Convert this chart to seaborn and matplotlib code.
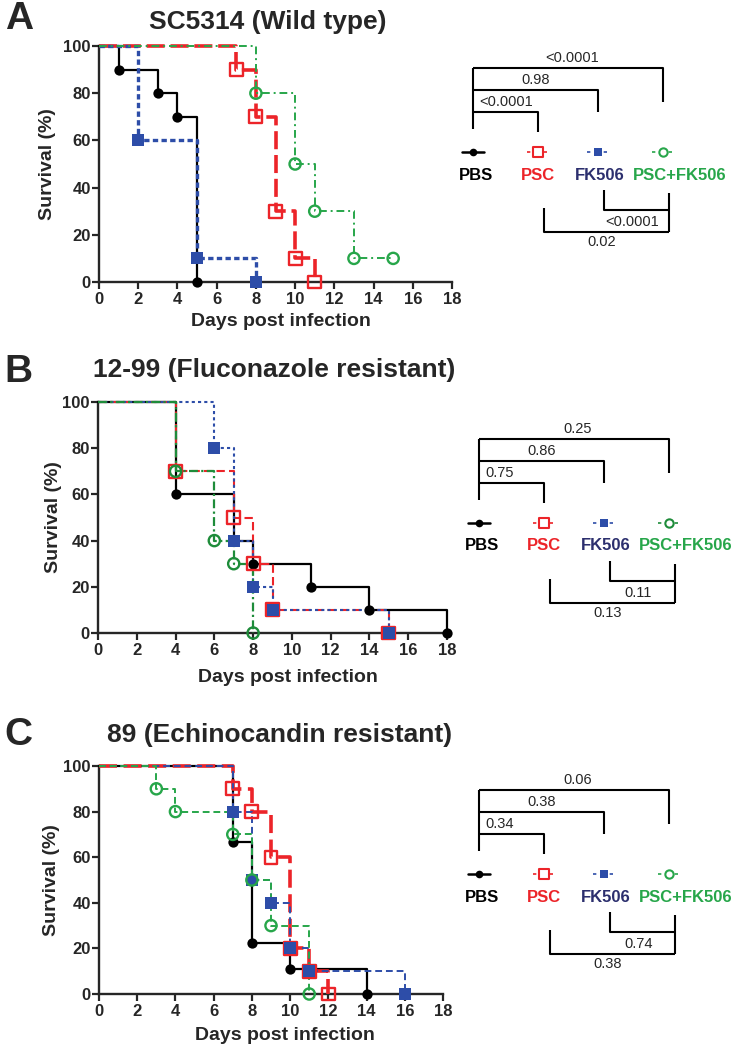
import matplotlib
matplotlib.use("Agg")
import matplotlib.pyplot as plt
import seaborn as sns
import pandas as pd
from matplotlib.lines import Line2D

sns.set_theme(style="ticks")
plt.rcParams["font.family"] = ["Liberation Sans", "DejaVu Sans"]

# ---------------- data ----------------
groups = ["PBS", "PSC", "FK506", "PSC+FK506"]

A_PBS_days = [0, 1, 3, 4, 5];            A_PBS_surv = [100, 90, 80, 70, 0]
A_PSC_days = [0, 7, 8, 9, 10, 11];       A_PSC_surv = [100, 90, 70, 30, 10, 0]
A_FK_days = [0, 2, 5, 8];                A_FK_surv = [100, 60, 10, 0]
A_CMB_days = [0, 8, 10, 11, 13, 15];     A_CMB_surv = [100, 80, 50, 30, 10, 10]

B_PBS_days = [0, 4, 7, 8, 11, 14, 18];   B_PBS_surv = [100, 60, 40, 30, 20, 10, 0]
B_PSC_days = [0, 4, 7, 8, 9, 15];        B_PSC_surv = [100, 70, 50, 30, 10, 0]
B_FK_days = [0, 6, 7, 8, 9, 15];         B_FK_surv = [100, 80, 40, 20, 10, 0]
B_CMB_days = [0, 4, 6, 7, 8];            B_CMB_surv = [100, 70, 40, 30, 0]

C_PBS_days = [0, 7, 8, 10, 14];          C_PBS_surv = [100, 66.7, 22.2, 11.1, 0]
C_PSC_days = [0, 7, 8, 9, 10, 11, 12];   C_PSC_surv = [100, 90, 80, 60, 20, 10, 0]
C_FK_days = [0, 7, 8, 9, 10, 11, 16];    C_FK_surv = [100, 80, 50, 40, 20, 10, 0]
C_CMB_days = [0, 3, 4, 7, 8, 9, 11];     C_CMB_surv = [100, 90, 80, 70, 50, 30, 0]

panel_letters = ["A", "B", "C"]
panel_titles = {"A": "SC5314 (Wild type)",
                "B": "12-99 (Fluconazole resistant)",
                "C": "89 (Echinocandin resistant)"}
# p-values: PBS vs PSC+FK506, PBS vs FK506, PBS vs PSC
A_p_top = ["<0.0001", "0.98", "<0.0001"]
B_p_top = ["0.25", "0.86", "0.75"]
C_p_top = ["0.06", "0.38", "0.34"]
# FK506 vs PSC+FK506, PSC vs PSC+FK506
A_p_bot = ["<0.0001", "0.02"]
B_p_bot = ["0.11", "0.13"]
C_p_bot = ["0.74", "0.38"]

x_ticks = list(range(0, 19, 2))
y_ticks = list(range(0, 101, 20))

rows = []
for pnl, series in zip(panel_letters, [
        [(A_PBS_days, A_PBS_surv), (A_PSC_days, A_PSC_surv), (A_FK_days, A_FK_surv), (A_CMB_days, A_CMB_surv)],
        [(B_PBS_days, B_PBS_surv), (B_PSC_days, B_PSC_surv), (B_FK_days, B_FK_surv), (B_CMB_days, B_CMB_surv)],
        [(C_PBS_days, C_PBS_surv), (C_PSC_days, C_PSC_surv), (C_FK_days, C_FK_surv), (C_CMB_days, C_CMB_surv)]]):
    for g, (dd, ss) in zip(groups, series):
        for d, s in zip(dd, ss):
            rows.append(dict(panel=pnl, group=g, day=d, survival=s))
df = pd.DataFrame(rows)

# ---------------- styles ----------------
RED = "#EC2429"
BLUE = "#2D4DA8"
GREEN = "#27A64A"
colors = {"PBS": "black", "PSC": RED, "FK506": BLUE, "PSC+FK506": GREEN}
text_colors = {"PBS": "black", "PSC": RED, "FK506": "#2C2F6E", "PSC+FK506": GREEN}
line_style = {
    "A": {"PBS": (1.6, None), "PSC": (2.6, (5, 1.6)), "FK506": (2.4, (1.6, 1.0)), "PSC+FK506": (1.4, (4, 2, 1, 2))},
    "B": {"PBS": (1.6, None), "PSC": (1.5, (4, 2)), "FK506": (1.5, (1.5, 1.5)), "PSC+FK506": (1.6, (4, 1.5, 1, 1.5))},
    "C": {"PBS": (1.6, None), "PSC": (2.6, (5, 1.8)), "FK506": (1.4, (3.5, 2)), "PSC+FK506": (1.4, (3.5, 2))},
}
green_by_panel = {"A": GREEN, "B": "#1E8C3A", "C": GREEN}
marker_style = {
    "PBS": dict(marker="o", s=55, filled=True),
    "PSC": dict(marker="s", s=85, filled=False),
    "FK506": dict(marker="s", s=75, filled=True),
    "PSC+FK506": dict(marker="o", s=65, filled=False),
}

W, H = 738, 1053
fig = plt.figure(figsize=(W / 100, H / 100), dpi=100)

ov = fig.add_axes([0, 0, 1, 1])
ov.set_xlim(0, W)
ov.set_ylim(H, 0)
ov.axis("off")

def add_ax(l, t, r, b):
    return fig.add_axes([l / W, 1 - b / H, (r - l) / W, (b - t) / H])

axes_px = {"A": (99, 46, 452, 282), "B": (98, 402, 447, 633), "C": (99, 766, 443, 994)}
title_pos = {"A": (268, 22), "B": (274, 370), "C": (280, 735)}
letter_pos = {"A": (19, 19), "B": (18, 372), "C": (18, 735)}
xlab_pos = {"A": (281, 321), "B": (288, 678), "C": (285, 1036)}
ylab_pos = {"A": (47, 164), "B": (53, 517), "C": (52, 880)}
legend_base = {"A": (473, 152), "B": (479, 523), "C": (479, 874)}
p_top = {"A": A_p_top, "B": B_p_top, "C": C_p_top}
p_bot = {"A": A_p_bot, "B": B_p_bot, "C": C_p_bot}

for pnl in panel_letters:
    ax = add_ax(*axes_px[pnl])
    for g in groups:
        col = green_by_panel[pnl] if g == "PSC+FK506" else colors[g]
        lw, dash = line_style[pnl][g]
        d = df[(df.panel == pnl) & (df.group == g)]
        sns.lineplot(data=d, x="day", y="survival", ax=ax, color=col,
                     estimator=None, sort=False, drawstyle="steps-post",
                     linewidth=lw, legend=False, clip_on=False, zorder=3)
        if dash is not None:
            ax.lines[-1].set_dashes(dash)
    for g in groups:
        col = green_by_panel[pnl] if g == "PSC+FK506" else colors[g]
        ms = marker_style[g]
        ev = df[(df.panel == pnl) & (df.group == g) & (df.day > 0)]
        sns.scatterplot(data=ev, x="day", y="survival", ax=ax, marker=ms["marker"],
                        s=ms["s"], color=col,
                        facecolor=col if ms["filled"] else "none",
                        edgecolor=col, linewidth=0 if ms["filled"] else 1.7,
                        legend=False, clip_on=False, zorder=4)
    ax.set_xlim(0, 18)
    ax.set_ylim(0, 100)
    ax.set_xticks(x_ticks)
    ax.set_yticks(y_ticks)
    ax.set_xlabel("")
    ax.set_ylabel("")
    sns.despine(ax=ax)
    for sp in ["left", "bottom"]:
        ax.spines[sp].set_linewidth(1.7)
    ax.tick_params(axis="both", length=5, width=1.6, labelsize=12, direction="out")
    ax.tick_params(axis="x", pad=2.5)
    ax.tick_params(axis="y", pad=1)
    for lab in ax.get_xticklabels() + ax.get_yticklabels():
        lab.set_fontweight("bold")

    # texts
    ov.text(*letter_pos[pnl], pnl, fontsize=28, fontweight="bold", ha="center", va="center")
    ov.text(*title_pos[pnl], panel_titles[pnl],
            fontsize=19, fontweight="bold", ha="center", va="center")
    ov.text(*xlab_pos[pnl], "Days post infection", fontsize=14, fontweight="bold",
            ha="center", va="center")
    ov.text(*ylab_pos[pnl], "Survival (%)", fontsize=14, fontweight="bold",
            ha="center", va="center", rotation=90)

    # legend + brackets
    bx, by = legend_base[pnl]
    legs = [bx, bx + 65, bx + 125, bx + 190]
    text_dx = [3, 0, 2, 17]
    for i, g in enumerate(groups):
        col = green_by_panel[pnl] if g == "PSC+FK506" else colors[g]
        lw, dash = line_style[pnl][g]
        ln = Line2D([legs[i] - 11, legs[i] + 11], [by, by], color=col,
                    linewidth=1.8 if g == "PBS" else 1.2)
        if g != "PBS":
            ln.set_dashes((2, 3))
        ov.add_line(ln)
        ms = marker_style[g]
        ov.scatter([legs[i]], [by], marker=ms["marker"], s=ms["s"] * 0.55,
                   facecolor=col if ms["filled"] else "white", edgecolor=col,
                   linewidth=0 if ms["filled"] else 1.5, zorder=5)
        ov.text(legs[i] + text_dx[i], by + 23, g, color=text_colors[g],
                fontsize=12, fontweight="bold", ha="center", va="center")

    blw = 1.5
    kw = dict(color="black", linewidth=blw, solid_capstyle="butt")
    # top brackets
    tops = [by - 84, by - 62, by - 40]
    right_legs = [legs[3], legs[2], legs[1]]
    right_bottoms = [by - 50, by - 40, by - 20]
    ov.plot([legs[0], legs[0]], [tops[0], by - 23], **kw)
    for t, rl, rb in zip(tops, right_legs, right_bottoms):
        ov.plot([legs[0], rl, rl], [t, t, rb], **kw)
    ptxt = p_top[pnl]
    ov.text((legs[0] + legs[3]) / 2 + 4, tops[0] - 3, ptxt[0], fontsize=10.5, ha="center", va="bottom")
    ov.text((legs[0] + legs[2]) / 2, tops[1] - 3, ptxt[1], fontsize=10.5, ha="center", va="bottom")
    ov.text(legs[0] + 6, tops[2] - 3, ptxt[2], fontsize=10.5, ha="left", va="bottom")
    # bottom brackets
    bl = [l + 6 for l in legs]
    ov.plot([bl[2], bl[2], bl[3]], [by + 38, by + 58, by + 58], **kw)
    ov.plot([bl[3], bl[3]], [by + 41, by + 80], **kw)
    ov.plot([bl[1], bl[1], bl[3]], [by + 56, by + 80, by + 80], **kw)
    pb = p_bot[pnl]
    ov.text((bl[2] + bl[3]) / 2 - 4, by + 70, pb[0], fontsize=10.5, ha="center", va="center")
    ov.text((bl[1] + bl[3]) / 2 - 5, by + 90, pb[1], fontsize=10.5, ha="center", va="center")

fig.savefig("out.png", dpi=100)
